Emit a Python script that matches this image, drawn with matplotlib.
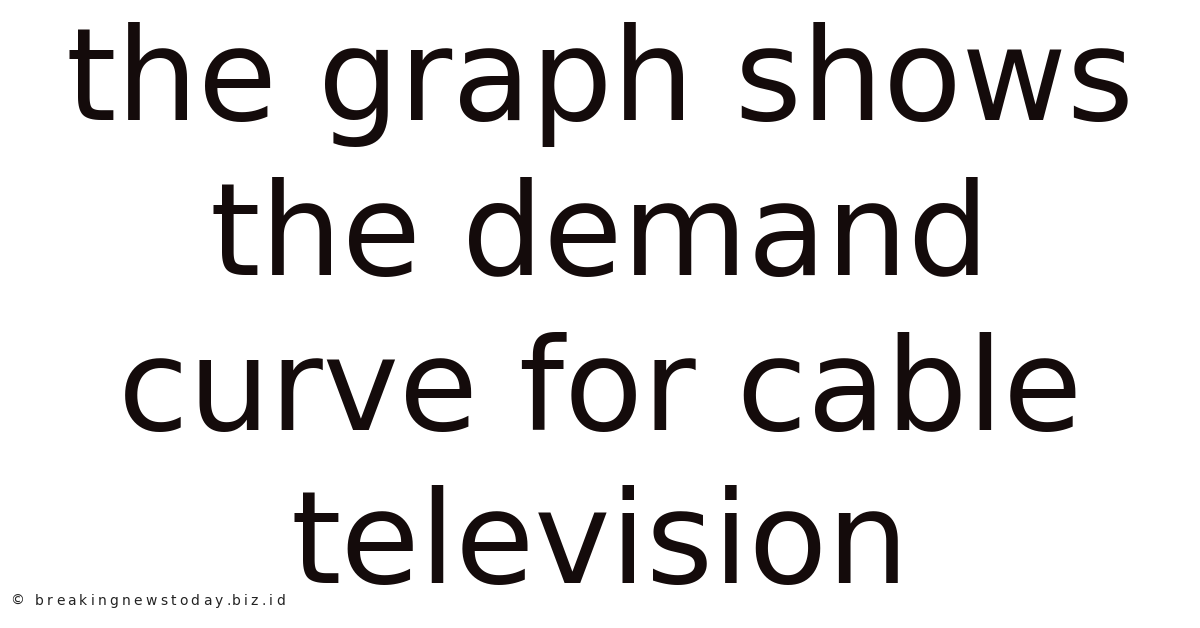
import matplotlib
matplotlib.use('Agg')
import matplotlib.pyplot as plt

lines = ['the graph shows', 'the demand', 'curve for cable', 'television']
baselines = [120, 275, 430, 583]  # pixel rows from the top
watermark = '\u00a9 breakingnewstoday.biz.id'

W, H = 1200, 628
fig = plt.figure(figsize=(W / 100, H / 100), dpi=100)
fig.patch.set_facecolor('white')

for txt, y in zip(lines, baselines):
    fig.text(0.5, 1 - y / H, txt, ha='center', va='baseline',
             fontsize=92.5, family='DejaVu Sans', color='#140b0b')

# watermark is letter-spaced in the source, so lay it out char by char
renderer = fig.canvas.get_renderer()
wm_kw = dict(fontsize=10, family='DejaVu Sans', color='#222222',
             ha='left', va='baseline')
x0, x1, y_wm = 10, 285, 605


def prefix_width(s):
    if not s:
        return 0.0
    t = fig.text(0, 0, s.replace(' ', '\u00a0'), **wm_kw)
    w = t.get_window_extent(renderer).width
    t.remove()
    return w


natural = prefix_width(watermark)
gap = (x1 - x0 - natural) / (len(watermark) - 1)
for i, ch in enumerate(watermark):
    if ch.strip() == '':
        continue
    x = x0 + prefix_width(watermark[:i]) + i * gap
    fig.text(x / W, 1 - y_wm / H, ch, **wm_kw)

fig.savefig('out.png', dpi=100, facecolor='white')
